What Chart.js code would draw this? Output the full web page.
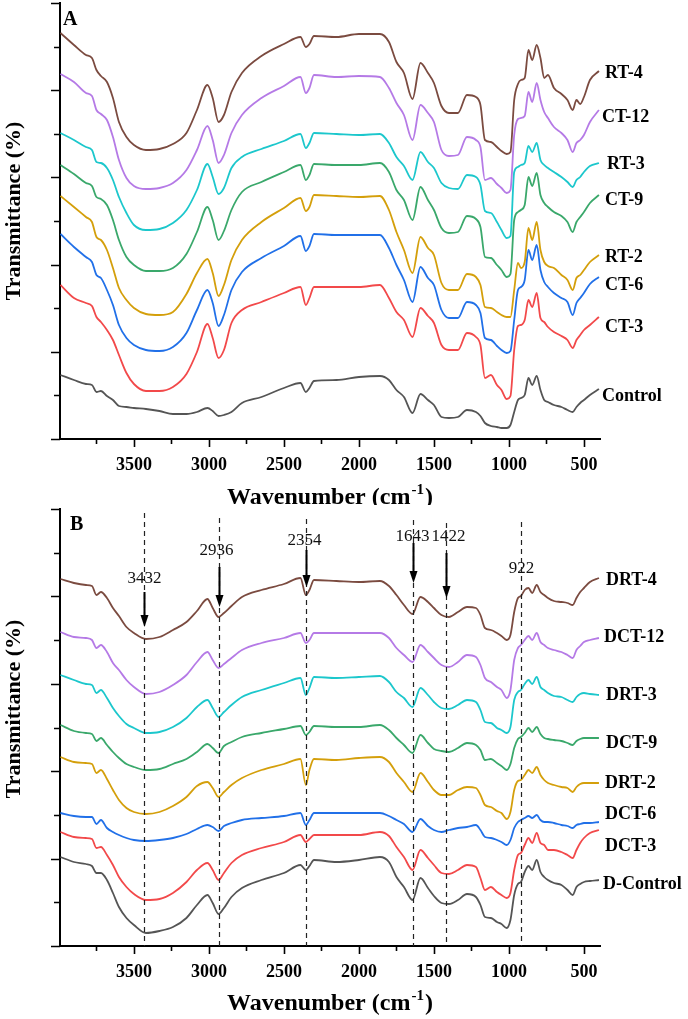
<!DOCTYPE html>
<html>
<head>
<meta charset="utf-8">
<script src="https://cdn.jsdelivr.net/npm/chart.js@4.4.1/dist/chart.umd.min.js"></script>
<style>
  html, body { margin: 0; padding: 0; background: #fff; }
  #wrap { position: relative; width: 688px; height: 1019px; }
  canvas { position: absolute; left: 0; }
  #chartA { top: 0; }
  #chartB { top: 505px; }
</style>
</head>
<body>
<div id="wrap">
  <canvas id="chartA" width="688" height="505"></canvas>
  <canvas id="chartB" width="688" height="514"></canvas>
</div>
<script>
'use strict';

const serif = '"Liberation Serif", "Times New Roman", serif';

// wavenumbers (cm-1) shared by every spectrum
const wavenumbers = [
  3990, 3900, 3820, 3780, 3750, 3720, 3680, 3640, 3600, 3550,
  3500, 3420, 3330, 3240, 3150, 3080, 3010, 2975, 2936, 2900,
  2850, 2780, 2650, 2500, 2390, 2354, 2330, 2300, 2150, 2000,
  1860, 1800, 1750, 1700, 1643, 1590, 1540, 1500, 1450, 1400,
  1340, 1280, 1220, 1190, 1160, 1120, 1080, 1050, 1015, 990,
  965, 940, 920, 895, 870, 845, 815, 790, 765, 740,
  700, 650, 610, 575, 550, 525, 500, 460, 400
];

// labelled ticks on the wavenumber axis
const xTicks = [3500, 3000, 2500, 2000, 1500, 1000, 500];

// panel A, stacked transmittance (arbitrary offset units)
const namesA = ['RT-4', 'CT-12', 'RT-3', 'CT-9', 'RT-2', 'CT-6', 'CT-3', 'Control'];
const rt4 = [
  406, 394, 384, 381, 369, 363, 357, 341, 317, 302,
  294, 289, 290, 295, 306, 329, 354, 341, 317, 324,
  347, 366, 383, 395, 402, 392, 395, 403, 402, 405,
  405, 397, 377, 366, 340, 376, 366, 356, 333, 326,
  326, 344, 342, 334, 299, 297, 292, 288, 285, 287,
  339, 355, 359, 361, 389, 379, 394, 381, 361, 364,
  351, 345, 339, 329, 339, 335, 342, 359, 368
];
const ct12 = [
  365, 357, 346, 343, 329, 325, 319, 302, 279, 261,
  253, 250, 251, 256, 269, 289, 313, 299, 276, 284,
  306, 324, 341, 353, 362, 346, 351, 364, 362, 363,
  362, 351, 336, 324, 299, 334, 326, 317, 289, 283,
  284, 302, 299, 292, 259, 261, 255, 251, 246, 249,
  304, 320, 321, 323, 347, 337, 356, 339, 327, 321,
  312, 306, 299, 287, 296, 299, 304, 317, 329
];
const rt3 = [
  306, 299, 292, 289, 277, 276, 271, 259, 242, 226,
  214, 209, 210, 216, 229, 249, 275, 262, 245, 251,
  271, 282, 290, 298, 305, 291, 296, 306, 305, 304,
  305, 296, 282, 273, 259, 287, 277, 271, 256, 251,
  250, 264, 262, 254, 228, 226, 217, 209, 201, 203,
  267, 272, 274, 276, 293, 287, 296, 279, 274, 271,
  267, 262, 257, 252, 259, 262, 267, 273, 276
];
const ct9 = [
  274, 265, 256, 253, 242, 240, 234, 219, 199, 182,
  174, 168, 168, 171, 185, 207, 232, 219, 199, 208,
  229, 247, 257, 267, 274, 259, 264, 275, 274, 274,
  276, 267, 249, 239, 219, 252, 239, 229, 211, 206,
  207, 223, 220, 212, 182, 181, 174, 169, 162, 165,
  219, 227, 229, 234, 262, 253, 266, 244, 236, 232,
  227, 223, 217, 207, 217, 222, 227, 236, 244
];
const rt2 = [
  243, 232, 222, 217, 202, 199, 189, 171, 151, 139,
  131, 125, 124, 127, 145, 166, 180, 166, 143, 154,
  179, 199, 217, 231, 241, 228, 232, 244, 243, 242,
  243, 229, 207, 189, 166, 202, 191, 184, 156, 149,
  149, 165, 162, 154, 132, 131, 127, 124, 122, 122,
  149, 176, 171, 177, 211, 199, 217, 189, 177, 173,
  171, 164, 159, 149, 161, 164, 169, 177, 184
];
const ct6 = [
  205, 192, 182, 177, 164, 161, 149, 134, 114, 101,
  94, 89, 88, 92, 106, 129, 149, 136, 113, 124,
  149, 167, 181, 193, 203, 188, 193, 205, 204, 204,
  204, 191, 174, 159, 137, 172, 161, 154, 129, 121,
  121, 137, 134, 126, 101, 99, 93, 89, 86, 88,
  119, 149, 152, 159, 189, 179, 194, 169, 157, 152,
  146, 141, 137, 124, 136, 141, 146, 155, 162
];
const ct3 = [
  154, 141, 136, 133, 122, 117, 109, 99, 84, 66,
  55, 48, 48, 52, 65, 87, 115, 101, 81, 89,
  116, 129, 137, 146, 152, 134, 141, 152, 152, 152,
  154, 141, 127, 119, 102, 131, 123, 116, 94, 89,
  89, 106, 102, 94, 61, 64, 54, 49, 40, 43,
  89, 113, 114, 119, 139, 132, 146, 121, 117, 112,
  107, 103, 99, 91, 99, 104, 109, 114, 122
];
const control = [
  64, 59, 55, 54, 47, 48, 43, 39, 33, 32,
  31, 30, 28, 25, 25, 27, 31, 28, 23, 24,
  27, 36, 42, 51, 56, 47, 51, 58, 59, 62,
  63, 59, 49, 42, 26, 45, 39, 34, 22, 21,
  22, 29, 27, 23, 16, 13, 12, 11, 11, 14,
  27, 39, 41, 44, 61, 54, 63, 49, 39, 37,
  34, 32, 29, 27, 32, 36, 39, 44, 50
];

// panel B
const namesB = ['DRT-4', 'DCT-12', 'DRT-3', 'DCT-9', 'DRT-2', 'DCT-6', 'DCT-3', 'D-Control'];
const drt4 = [
  367, 363, 361, 360, 351, 354, 348, 338, 330, 319,
  313, 307, 309, 316, 324, 335, 347, 338, 329, 333,
  340, 349, 356, 362, 368, 351, 356, 366, 365, 364,
  365, 360, 351, 341, 332, 349, 344, 338, 331, 329,
  334, 339, 338, 331, 318, 316, 313, 310, 306, 311,
  334, 348, 350, 356, 358, 353, 361, 354, 351, 348,
  345, 344, 343, 341, 348, 354, 358, 364, 368
];
const dct12 = [
  314, 309, 308, 306, 298, 301, 294, 283, 276, 266,
  259, 252, 254, 261, 271, 284, 294, 286, 278, 282,
  288, 296, 303, 308, 313, 303, 306, 313, 313, 313,
  313, 308, 298, 291, 284, 301, 294, 288, 281, 279,
  284, 291, 289, 281, 268, 264, 259, 256, 248, 256,
  286, 298, 301, 306, 310, 306, 313, 304, 301, 298,
  296, 294, 291, 288, 296, 300, 304, 306, 308
];
const drt3 = [
  271, 266, 262, 261, 253, 256, 248, 238, 230, 222,
  218, 213, 214, 219, 228, 239, 246, 238, 229, 234,
  241, 249, 256, 263, 268, 251, 258, 269, 268, 269,
  270, 264, 254, 248, 239, 258, 251, 244, 238, 237,
  241, 246, 244, 236, 224, 223, 218, 216, 213, 219,
  246, 254, 256, 262, 266, 262, 269, 259, 256, 253,
  250, 249, 246, 244, 249, 252, 253, 252, 251
];
const dct9 = [
  221, 215, 213, 212, 205, 208, 201, 194, 188, 182,
  179, 176, 177, 182, 187, 194, 202, 198, 193, 200,
  204, 209, 213, 217, 220, 211, 214, 220, 219, 219,
  221, 216, 208, 201, 193, 211, 203, 197, 195, 194,
  198, 203, 201, 196, 186, 187, 183, 180, 176, 182,
  198, 207, 209, 213, 218, 214, 219, 212, 208, 207,
  206, 205, 203, 201, 205, 207, 208, 208, 208
];
const drt2 = [
  189, 184, 183, 182, 173, 176, 167, 156, 146, 138,
  134, 132, 134, 140, 149, 160, 164, 158, 149, 154,
  161, 168, 176, 182, 187, 161, 176, 187, 186, 188,
  189, 184, 173, 164, 154, 173, 164, 156, 151, 151,
  156, 159, 158, 151, 141, 139, 135, 133, 127, 134,
  156, 165, 166, 171, 176, 173, 179, 171, 166, 163,
  161, 159, 158, 154, 159, 162, 163, 163, 163
];
const dct6 = [
  133, 130, 129, 129, 122, 126, 118, 114, 111, 108,
  106, 105, 106, 108, 112, 117, 121, 119, 115, 120,
  123, 126, 128, 130, 133, 121, 126, 133, 133, 133,
  133, 130, 126, 122, 114, 127, 120, 116, 114, 116,
  118, 119, 121, 116, 109, 108, 106, 104, 101, 106,
  118, 124, 126, 128, 130, 128, 131, 126, 124, 124,
  123, 121, 120, 118, 121, 122, 123, 123, 124
];
const dct3 = [
  114, 109, 108, 107, 98, 99, 91, 81, 69, 59,
  52, 46, 47, 53, 64, 76, 83, 76, 66, 73,
  83, 91, 98, 104, 111, 104, 107, 111, 111, 111,
  114, 110, 99, 89, 76, 96, 88, 81, 73, 72,
  76, 81, 79, 68, 56, 59, 54, 51, 48, 53,
  76, 91, 93, 101, 108, 103, 113, 103, 101, 96,
  96, 94, 91, 88, 96, 103, 108, 113, 116
];
const dControl = [
  89, 84, 82, 80, 73, 73, 66, 53, 39, 28,
  21, 13, 15, 19, 28, 41, 51, 43, 32, 38,
  49, 58, 66, 73, 81, 76, 80, 86, 84, 86,
  89, 84, 69, 59, 46, 68, 58, 50, 43, 42,
  46, 52, 49, 41, 29, 28, 24, 22, 18, 26,
  51, 62, 64, 74, 80, 76, 86, 74, 69, 66,
  63, 61, 56, 51, 59, 62, 64, 65, 66
];

// bands marked in panel B
const bands = [3432, 2936, 2354, 1643, 1422, 922];
const bandLabels = ['3432', '2936', '2354', '1643', '1422', '922'];

const colors = ['#7b4b40', '#b57ae6', '#1cc7cc', '#3aa86b', '#d49f0b', '#2170e8', '#f2494a', '#555555'];

// layout of the decorations (canvas pixels)
const bandTop = [8, 13, 14, 15, 18, 17];
const bandArrow = [[87, 122], [62, 102], [45, 82], [38, 78], [48, 93], null];
const bandTextY = [78, 50, 40, 36, 36, 68];
const bandDx = [0, -3, -2, -1, 2, 0];


function drawXTitle(ctx, cx, baseline) {
  const main = 'Wavenumber (cm';
  const sup = '-1';
  const tail = ')';
  const f1 = 'bold 24px ' + serif;
  const f2 = 'bold 15px ' + serif;
  ctx.font = f1;
  const w1 = ctx.measureText(main).width;
  const w3 = ctx.measureText(tail).width;
  ctx.font = f2;
  const w2 = ctx.measureText(sup).width;
  const x0 = cx - (w1 + w2 + w3 + 2) / 2;
  ctx.textAlign = 'left';
  ctx.textBaseline = 'alphabetic';
  ctx.fillStyle = '#000';
  ctx.font = f1;
  ctx.fillText(main, x0, baseline);
  ctx.font = f2;
  ctx.fillText(sup, x0 + w1 + 1, baseline - 10);
  ctx.font = f1;
  ctx.fillText(tail, x0 + w1 + w2 + 2, baseline);
}

function drawTicks(chart) {
  const { ctx, chartArea: a, scales: { x, y } } = chart;
  ctx.save();
  ctx.strokeStyle = '#000';
  ctx.lineWidth = 1.6;
  ctx.beginPath();
  for (let w = 500; w <= 3750; w += 250) {
    const px = Math.round(x.getPixelForValue(w)) + 0.5;
    const len = w % 500 === 0 ? 8 : 5;
    ctx.moveTo(px, a.bottom);
    ctx.lineTo(px, a.bottom + len);
  }
  const step = y.max / 10;
  for (let i = 0; i <= 10; i++) {
    const py = Math.round(y.getPixelForValue(i * step)) + 0.5;
    const len = i % 2 === 0 ? 9 : 6;
    ctx.moveTo(a.left, py);
    ctx.lineTo(a.left - len, py);
  }
  ctx.stroke();
  ctx.restore();
}

function drawBands(chart) {
  const { ctx, chartArea: a, scales: { x } } = chart;
  ctx.save();
  bands.forEach((w, i) => {
    const px = Math.round(x.getPixelForValue(w)) + 0.5;
    ctx.strokeStyle = '#222';
    ctx.lineWidth = 1.2;
    ctx.setLineDash([5, 4]);
    ctx.beginPath();
    ctx.moveTo(px, bandTop[i]);
    ctx.lineTo(px, a.bottom);
    ctx.stroke();
    ctx.setLineDash([]);

    const ar = bandArrow[i];
    if (ar) {
      ctx.strokeStyle = '#000';
      ctx.lineWidth = 2;
      ctx.beginPath();
      ctx.moveTo(px, ar[0]);
      ctx.lineTo(px, ar[1] - 10);
      ctx.stroke();
      ctx.fillStyle = '#000';
      ctx.beginPath();
      ctx.moveTo(px - 4, ar[1] - 12);
      ctx.lineTo(px + 4, ar[1] - 12);
      ctx.lineTo(px, ar[1]);
      ctx.closePath();
      ctx.fill();
    }

    ctx.fillStyle = '#111';
    ctx.font = '17px ' + serif;
    ctx.textAlign = 'center';
    ctx.textBaseline = 'alphabetic';
    ctx.fillText(bandLabels[i], px + bandDx[i], bandTextY[i]);
  });
  ctx.restore();
}

function panelPlugin(panel) {
  return {
    id: 'panel' + panel.letter,
    afterDraw(chart) {
      const { ctx, chartArea: a } = chart;
      drawTicks(chart);
      ctx.save();
      ctx.fillStyle = '#000';

      // series names at the right end of each trace
      ctx.font = 'bold 18px ' + serif;
      ctx.textAlign = 'left';
      ctx.textBaseline = 'middle';
      panel.names.forEach((n, i) => {
        ctx.fillText(n, panel.labelPos[i][0], panel.labelPos[i][1]);
      });

      // panel letter
      ctx.font = 'bold 20px ' + serif;
      ctx.textBaseline = 'alphabetic';
      ctx.fillText(panel.letter, panel.letterPos[0], panel.letterPos[1]);

      // y title
      ctx.save();
      ctx.translate(14, panel.yTitleY);
      ctx.rotate(-Math.PI / 2);
      ctx.font = 'bold 22px ' + serif;
      ctx.textAlign = 'center';
      ctx.textBaseline = 'middle';
      ctx.fillText('Transmittance (%)', 0, 0);
      ctx.restore();

      drawXTitle(ctx, (a.left + a.right) / 2, panel.xTitleY);
      ctx.restore();

      if (panel.bands) drawBands(chart);
    }
  };
}

function makeDatasets(names, series) {
  return names.map((n, i) => ({
    label: n,
    data: wavenumbers.map((w, j) => ({ x: w, y: series[i][j] })),
    borderColor: colors[i],
    borderWidth: 1.8,
    pointRadius: 0,
    cubicInterpolationMode: 'monotone',
    fill: false
  }));
}

function makeChart(canvas, names, series, yMax, padTop, axisHeight, panel) {
  return new Chart(canvas, {
    type: 'line',
    data: { datasets: makeDatasets(names, series) },
    options: {
      responsive: false,
      animation: false,
      events: [],
      layout: { padding: { top: padTop, right: 88, left: 0, bottom: 0 } },
      plugins: { legend: { display: false }, tooltip: { enabled: false } },
      scales: {
        x: {
          type: 'linear',
          reverse: true,
          min: 393,
          max: 3993,
          grid: { display: false, drawTicks: true, tickLength: 8 },
          border: { display: true, color: '#000', width: 2 },
          afterBuildTicks(scale) {
            scale.ticks = xTicks.map(v => ({ value: v }));
          },
          ticks: {
            autoSkip: false,
            maxRotation: 0,
            color: '#000',
            padding: 8,
            font: { family: serif, size: 18, weight: 'bold' },
            callback: v => String(v)
          },
          afterFit(scale) { scale.height = axisHeight; }
        },
        y: {
          min: 0,
          max: yMax,
          grid: { display: false },
          border: { display: true, color: '#000', width: 2 },
          ticks: { display: false },
          afterFit(scale) { scale.width = 60; }
        }
      }
    },
    plugins: [panelPlugin(panel)]
  });
}

const chartA = makeChart(
  document.getElementById('chartA'),
  namesA,
  [rt4, ct12, rt3, ct9, rt2, ct6, ct3, control],
  436, 3, 66,
  {
    letter: 'A',
    letterPos: [63, 25],
    names: namesA,
    labelPos: [[605, 73], [602, 117], [607, 164], [605, 200], [605, 257], [605, 285], [605, 327], [602, 396]],
    yTitleY: 211,
    xTitleY: 504,
    bands: false
  }
);

const chartB = makeChart(
  document.getElementById('chartB'),
  namesB,
  [drt4, dct12, drt3, dct9, drt2, dct6, dct3, dControl],
  437, 4, 73,
  {
    letter: 'B',
    letterPos: [70, 25],
    names: namesB,
    labelPos: [[606, 75], [604, 132], [606, 190], [606, 238], [605, 278], [605, 309], [605, 341], [603, 379]],
    yTitleY: 204,
    xTitleY: 505,
    bands: true
  }
);
</script>
</body>
</html>
